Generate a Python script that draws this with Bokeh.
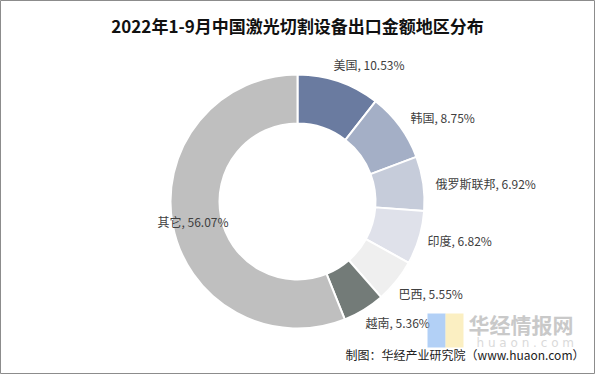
import math
from bokeh.plotting import figure
from bokeh.models import ColumnDataSource, Range1d
from bokeh.core.properties import value
from bokeh.embed import file_html
from bokeh.resources import INLINE

# ---- data ----
categories = ["美国", "韩国", "俄罗斯联邦", "印度", "巴西", "越南", "其它"]
shares = [10.53, 8.75, 6.92, 6.82, 5.55, 5.36, 56.07]
colors = ["#6a7ba0", "#a4afc6", "#c6ccda", "#dfe1ea", "#efefef", "#737b78", "#bfbfbf"]
title = "2022年1-9月中国激光切割设备出口金额地区分布"
source_note = "制图：华经产业研究院（www.huaon.com）"

# ---- layout (reference pixel coordinates) ----
IMG_H = 374
W, H = 595, 374
CX, CY = 297, 201
R_IN, R_OUT = 78, 127
label_pos = [(333, 64), (410, 117), (435, 183), (427, 240), (398, 293), (365, 322), (157, 221)]


def Y(py):
    return IMG_H - py


total = sum(shares)
starts, ends = [], []
cum = 0.0
for s in shares:
    a0 = cum / total
    cum += s
    a1 = cum / total
    starts.append(math.pi / 2 - 2 * math.pi * a1)
    ends.append(math.pi / 2 - 2 * math.pi * a0)

src = ColumnDataSource(dict(cat=categories, share=shares, color=colors, start=starts, end=ends))

p = figure(width=W, height=H, x_range=Range1d(0, W), y_range=Range1d(IMG_H - H, IMG_H),
           output_backend="svg", toolbar_location=None, min_border=0)
p.axis.visible = False
p.grid.visible = False
p.background_fill_color = "white"
p.border_fill_color = "white"
p.outline_line_color = "#8c8c8c"
p.outline_line_width = 1

p.annular_wedge(x=CX, y=Y(CY), inner_radius=R_IN, outer_radius=R_OUT,
                start_angle="start", end_angle="end", direction="anticlock",
                fill_color="color", line_color="white", line_width=2, source=src)

lab_src = ColumnDataSource(dict(
    x=[lp[0] for lp in label_pos],
    y=[Y(lp[1]) for lp in label_pos],
    t=[f"{c}, {s:.2f}%" for c, s in zip(categories, shares)],
))
p.text(x="x", y="y", text="t", source=lab_src, text_font=value("Noto Sans CJK SC"),
       text_font_size="12px", text_color="#404040", text_align="left", text_baseline="middle")

# title
p.text(x=[297], y=[Y(25)], text=[title], text_font=value("Noto Sans CJK SC"),
       text_font_size="17px", text_font_style="bold", text_color="#111111",
       text_align="center", text_baseline="middle")

# watermark
p.quad(left=[427], right=[445], top=[Y(313)], bottom=[Y(347)], fill_color="#7fb0f0",
       fill_alpha=0.6, line_color=None)
p.quad(left=[445], right=[463], top=[Y(313)], bottom=[Y(347)], fill_color="#f8e49a",
       fill_alpha=0.6, line_color=None)
p.text(x=[468], y=[Y(323)], text=["华经情报网"], text_font=value("Noto Sans CJK SC"),
       text_font_size="21px", text_font_style="bold", text_color="#c9c9c9",
       text_align="left", text_baseline="middle")
p.text(x=[476], y=[Y(342)], text=["h u a o n . c o m"], text_font=value("DejaVu Sans"),
       text_font_size="12px", text_color="#dadada", text_align="left", text_baseline="middle")

# source note
p.text(x=[584], y=[Y(354)], text=[source_note], text_font=value("Noto Sans CJK SC"),
       text_font_size="12px", text_color="#222222", text_align="right", text_baseline="middle")

open("out.html", "w").write(file_html(p, INLINE))
